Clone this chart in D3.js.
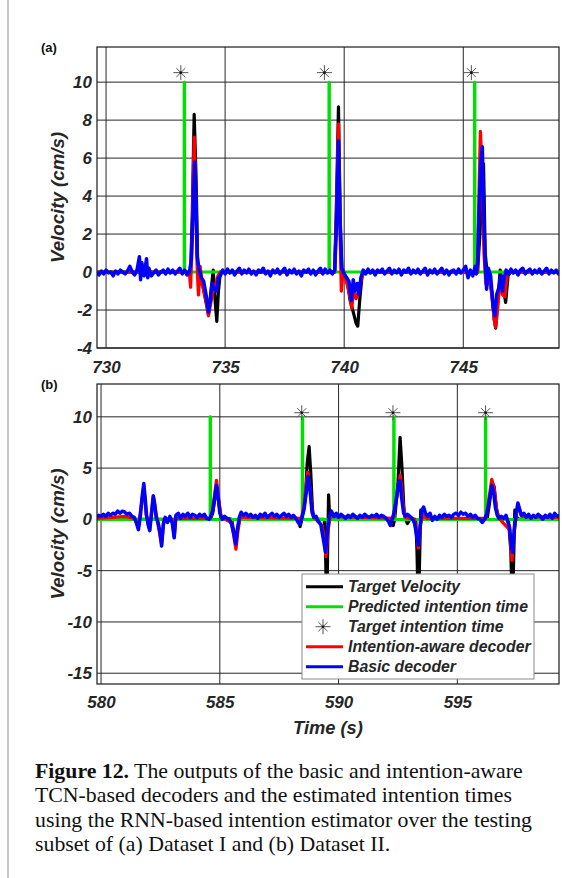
<!DOCTYPE html>
<html>
<head>
<meta charset="utf-8">
<script src="https://cdn.jsdelivr.net/npm/d3@7"></script>
<style>
  body { margin: 0; background: #fff; }
  svg { display: block; }
  .lab { font-family: "Liberation Sans", Arial, sans-serif; font-weight: bold; font-style: italic; fill: #262626; }
  .cap { font-family: "Liberation Serif", "Times New Roman", serif; font-size: 21.8px; fill: #111; }
</style>
</head>
<body>
<div id="chart"></div>
<script>
// ---------- panel (a): Dataset I ----------
const xTicksA = [730, 735, 740, 745];
const yTicksA = [-4, -2, 0, 2, 4, 6, 8, 10];

// target velocity (black)
const targetA = [
  [729.6, 0], [733.55, 0], [733.62, 3], [733.7, 8.3], [733.78, 5], [733.85, 0.2], [734.0, -0.3],
  [734.2, -1.6], [734.3, -2.2], [734.45, -0.5], [734.5, 0.1], [734.58, -1.5], [734.65, -2.6],
  [734.72, -1.0], [734.8, 0], [739.6, 0], [739.68, 4], [739.76, 8.7], [739.83, 3], [739.9, 0],
  [740.1, -0.3], [740.25, -1.5], [740.4, -2.2], [740.5, -2.7], [740.57, -2.85], [740.65, -1.5],
  [740.75, -0.2], [740.85, 0], [745.6, 0], [745.7, 2], [745.78, 4.5], [745.85, 5.7], [745.92, 1],
  [746.0, 0], [746.2, -1], [746.3, -2.5], [746.36, -2.95], [746.45, -1.5], [746.55, 0.1],
  [746.68, -0.8], [746.78, -1.6], [746.88, -0.2], [747.0, 0], [749.1, 0]
];

// predicted intention time (green)
const predA = [
  [729.6, 0], [733.28, 0], [733.28, 10], [733.3, 10], [733.3, 0], [739.36, 0], [739.36, 10],
  [739.38, 10], [739.38, 0], [745.47, 0], [745.47, 10], [745.49, 10], [745.49, 0], [749.1, 0]
];

// target intention time (stars)
const starA = [[733.14, 10.5], [739.17, 10.5], [745.34, 10.5]];

// intention-aware decoder (red)
const awareA = [
  [729.6, 0], [733.5, 0], [733.55, -0.8], [733.62, 2.0], [733.7, 7.1], [733.77, 4.0], [733.82, 0.5],
  [733.88, -1.2], [733.95, 0.3], [734.05, -0.7], [734.2, -1.5], [734.3, -2.3], [734.4, -1.6],
  [734.5, -1.0], [734.6, -0.7], [734.7, -0.2], [734.8, 0], [739.6, 0], [739.68, 3], [739.76, 7.8],
  [739.83, 2], [739.88, -1.0], [739.95, 0.1], [740.05, -0.3], [740.2, -1.0], [740.32, -1.9],
  [740.4, -0.8], [740.5, -1.4], [740.6, -1.1], [740.7, -0.5], [740.8, 0], [745.6, 0], [745.66, 4],
  [745.72, 7.4], [745.8, 5], [745.87, 1], [745.95, -0.6], [746.05, 0], [746.2, -1.2], [746.3, -2.5],
  [746.36, -2.9], [746.45, -1.8], [746.55, -0.4], [746.65, -1.2], [746.75, -1.3], [746.85, -0.1],
  [746.95, 0], [749.1, 0]
];

// basic decoder (blue)
const basicA = [
  [729.6, 0.0], [729.7, -0.15], [729.8, 0.05], [729.9, -0.1], [730.0, 0.1], [730.1, -0.05],
  [730.2, 0.0], [730.3, -0.2], [730.4, 0.05], [730.5, -0.1], [730.6, 0.1], [730.7, 0.0],
  [730.8, -0.1], [730.9, 0.05], [731.0, 0.3], [731.1, 0.0], [731.2, -0.15], [731.3, 0.1],
  [731.4, 0.8], [731.45, -0.4], [731.5, 0.5], [731.6, -0.2], [731.7, 0.7], [731.75, -0.3],
  [731.8, 0.2], [731.9, -0.2], [732.0, -0.05], [732.1, 0.1], [732.2, -0.15], [732.3, 0.0],
  [732.4, 0.1], [732.5, -0.1], [732.6, 0.15], [732.7, -0.05], [732.8, 0.1], [732.9, -0.1],
  [733.0, 0.05], [733.1, 0.2], [733.2, -0.1], [733.3, 0.1], [733.4, -0.15], [733.5, 0.0],
  [733.58, 0.6], [733.65, 3.0], [733.72, 5.8], [733.78, 3.5], [733.83, 0.8], [733.9, 0.2],
  [734.0, -0.3], [734.1, -0.5], [734.2, -1.2], [734.3, -2.1], [734.38, -1.5], [734.45, -0.6],
  [734.55, -0.9], [734.65, -1.0], [734.72, -0.3], [734.8, -0.2], [734.9, 0.1], [735.0, -0.1],
  [735.1, 0.15], [735.2, -0.05], [735.3, 0.1], [735.4, -0.15], [735.5, 0.05], [735.6, 0.2],
  [735.7, -0.1], [735.8, 0.1], [735.9, -0.05], [736.0, 0.15], [736.1, -0.1], [736.2, 0.05],
  [736.3, -0.15], [736.4, 0.1], [736.5, 0.0], [736.6, 0.2], [736.7, -0.1], [736.8, 0.05],
  [736.9, -0.2], [737.0, 0.1], [737.1, -0.05], [737.2, 0.15], [737.3, -0.1], [737.4, 0.05],
  [737.5, 0.2], [737.6, -0.15], [737.7, 0.1], [737.8, -0.05], [737.9, 0.15], [738.0, -0.1],
  [738.1, 0.05], [738.2, -0.2], [738.3, 0.1], [738.4, 0.0], [738.5, 0.15], [738.6, -0.1],
  [738.7, 0.1], [738.8, -0.15], [738.9, 0.05], [739.0, 0.2], [739.1, -0.1], [739.2, 0.15],
  [739.3, -0.05], [739.4, 0.1], [739.5, -0.1], [739.6, 0.1], [739.68, 2.5], [739.76, 6.9],
  [739.83, 2.5], [739.9, 0.2], [740.0, -0.1], [740.1, -0.3], [740.2, -0.5], [740.3, -1.5],
  [740.38, -0.4], [740.45, -1.0], [740.55, -0.6], [740.62, -1.2], [740.7, -0.3], [740.8, 0.1],
  [740.9, -0.1], [741.0, 0.15], [741.1, -0.05], [741.2, 0.1], [741.3, -0.15], [741.4, 0.1],
  [741.5, 0.0], [741.6, 0.15], [741.7, -0.1], [741.8, 0.05], [741.9, 0.2], [742.0, -0.1],
  [742.1, 0.1], [742.2, -0.05], [742.3, 0.15], [742.4, -0.15], [742.5, 0.1], [742.6, 0.0],
  [742.7, 0.2], [742.8, -0.1], [742.9, 0.1], [743.0, -0.05], [743.1, 0.15], [743.2, -0.1],
  [743.3, 0.05], [743.4, 0.2], [743.5, -0.15], [743.6, 0.1], [743.7, -0.05], [743.8, 0.15],
  [743.9, -0.1], [744.0, 0.05], [744.1, 0.2], [744.2, -0.1], [744.3, 0.1], [744.4, -0.15],
  [744.5, 0.05], [744.6, 0.1], [744.7, -0.1], [744.8, 0.15], [744.9, -0.05], [745.0, 0.1],
  [745.1, 0.3], [745.2, -0.3], [745.3, 0.1], [745.4, -0.2], [745.5, 0.3], [745.55, -0.1],
  [745.6, 0.5], [745.66, 3.0], [745.73, 5.6], [745.8, 6.6], [745.86, 3.2], [745.92, 0.5],
  [745.98, -0.9], [746.05, 0.2], [746.15, -0.2], [746.25, -1.8], [746.33, -2.3], [746.4, -1.2],
  [746.5, -0.8], [746.58, -0.2], [746.65, -1.0], [746.72, -0.3], [746.8, 0.1], [746.9, -0.1],
  [747.0, 0.15], [747.1, -0.05], [747.2, 0.1], [747.3, -0.15], [747.4, 0.1], [747.5, 0.2],
  [747.6, -0.1], [747.7, 0.05], [747.8, 0.15], [747.9, -0.1], [748.0, 0.1], [748.1, -0.05],
  [748.2, 0.15], [748.3, -0.1], [748.4, 0.05], [748.5, 0.2], [748.6, -0.1], [748.7, 0.1],
  [748.8, -0.05], [748.9, 0.1], [749.0, -0.1], [749.1, 0.05]
];

// ---------- panel (b): Dataset II ----------
const xTicksB = [580, 585, 590, 595];
const yTicksB = [-15, -10, -5, 0, 5, 10];

const targetB = [
  [579.8, 0], [584.6, 0], [584.7, 0.6], [584.8, 2.2], [584.87, 3.1], [584.95, 1.8], [585.05, 0.2],
  [585.5, 0], [585.6, -1.4], [585.67, -2.3], [585.75, -0.8], [585.85, 0], [588.3, 0], [588.38, -0.7],
  [588.45, 0], [588.6, 2.0], [588.68, 5.5], [588.76, 7.1], [588.83, 4.5], [588.9, 1.0], [588.97, 0],
  [589.4, 0], [589.45, -3], [589.5, -9], [589.54, -3], [589.58, 2.4], [589.63, 0], [592.25, 0],
  [592.3, -0.6], [592.36, 0], [592.5, 3.5], [592.59, 8.0], [592.67, 5], [592.75, 1], [592.82, 0],
  [592.9, -0.4], [593.0, 0], [593.25, 0], [593.3, -3], [593.36, -9], [593.42, -3], [593.46, 0.9],
  [593.52, 0], [596.25, 0], [596.35, 1.5], [596.45, 3.6], [596.55, 3.2], [596.65, 1.0], [596.75, 0],
  [597.15, 0], [597.25, -3], [597.32, -9], [597.38, -3], [597.42, 0.9], [597.5, 0.2], [597.6, 0],
  [599.4, 0]
];

const predB = [
  [579.8, 0], [584.59, 0], [584.59, 10], [584.61, 10], [584.61, 0], [588.47, 0], [588.47, 10],
  [588.49, 10], [588.49, 0], [592.32, 0], [592.32, 10], [592.34, 10], [592.34, 0], [596.18, 0],
  [596.18, 10], [596.2, 10], [596.2, 0], [599.4, 0]
];

const starB = [[588.45, 10.4], [592.29, 10.4], [596.19, 10.4]];

const awareB = [
  [579.8, 0.1], [580.5, 0.2], [581.0, 0.3], [581.4, 0.1], [581.57, -0.8], [581.8, 3.2], [581.9, 0.5],
  [582.05, -1.0], [582.2, 2.2], [582.35, 0.1], [582.55, -2.4], [582.65, 0], [583.0, 0], [583.08, -1.7],
  [583.15, 0.1], [584.6, 0.1], [584.7, 1.0], [584.86, 3.8], [584.95, 2.0], [585.05, 0.2], [585.5, -0.3],
  [585.6, -1.8], [585.68, -2.9], [585.76, -1.2], [585.85, 0.2], [586.0, 0.2], [588.45, 0.1],
  [588.55, 1.5], [588.7, 4.6], [588.8, 3], [588.9, 0.5], [589.0, 0.1], [589.3, -0.6], [589.4, -2.0],
  [589.47, -3.6], [589.55, -1.2], [589.65, 0.3], [592.3, 0.1], [592.4, 1.5], [592.6, 4.3],
  [592.7, 1.8], [592.8, 0.2], [593.2, 0], [593.3, -1.6], [593.36, -2.8], [593.45, -0.5], [593.55, 0.5],
  [593.7, 0.1], [596.2, 0.1], [596.3, 1.5], [596.45, 3.9], [596.55, 3.0], [596.65, 1.0],
  [596.75, 0.1], [597.2, -1.0], [597.3, -4.0], [597.38, -1.5], [597.5, 0.8], [597.58, 1.2],
  [597.7, 0.3], [599.4, 0.2]
];

const basicB = [
  [579.8, 0.2], [579.9, 0.4], [580.0, 0.3], [580.1, 0.5], [580.2, 0.3], [580.3, 0.6], [580.4, 0.4],
  [580.5, 0.6], [580.6, 0.5], [580.7, 0.8], [580.8, 0.6], [580.9, 0.8], [581.0, 0.7], [581.1, 0.5],
  [581.2, 0.6], [581.3, 0.3], [581.4, 0.2], [581.5, -0.4], [581.57, -1.0], [581.65, 0.2],
  [581.72, 2.0], [581.8, 3.5], [581.86, 2.0], [581.92, 0.3], [581.98, -0.5], [582.05, -1.1],
  [582.12, 0.5], [582.2, 2.3], [582.26, 1.5], [582.32, 0.2], [582.4, -0.3], [582.48, -1.2],
  [582.55, -2.6], [582.62, -0.5], [582.7, 0.2], [582.8, -0.3], [582.9, 0.3], [583.0, -0.4],
  [583.08, -1.8], [583.15, 0.4], [583.25, 0.6], [583.35, 0.1], [583.45, 0.5], [583.55, 0.3],
  [583.65, 0.6], [583.75, 0.2], [583.85, 0.5], [583.95, 0.4], [584.05, 0.2], [584.15, 0.5],
  [584.25, 0.3], [584.35, 0.5], [584.45, 0.1], [584.55, 0.0], [584.62, 0.3], [584.7, 0.8],
  [584.78, 2.0], [584.86, 3.3], [584.93, 2.2], [585.0, 0.6], [585.1, 0.0], [585.2, 0.3],
  [585.3, 0.1], [585.4, 0.0], [585.5, -0.5], [585.6, -1.5], [585.67, -2.4], [585.74, -1.0],
  [585.82, 0.2], [585.9, 0.7], [586.0, 0.4], [586.1, 0.6], [586.2, 0.3], [586.3, 0.5], [586.4, 0.2],
  [586.5, 0.4], [586.6, 0.1], [586.7, 0.5], [586.8, 0.3], [586.9, 0.6], [587.0, 0.2], [587.1, 0.4],
  [587.2, 0.6], [587.3, 0.3], [587.4, 0.5], [587.5, 0.2], [587.6, 0.4], [587.7, 0.6], [587.8, 0.3],
  [587.9, 0.5], [588.0, 0.2], [588.1, 0.4], [588.2, 0.1], [588.3, -0.3], [588.38, -0.5],
  [588.45, 0.1], [588.55, 1.0], [588.63, 2.5], [588.72, 4.2], [588.8, 2.8], [588.88, 0.8],
  [588.95, 0.2], [589.05, 0.3], [589.15, -0.2], [589.25, -0.5], [589.35, -1.8], [589.45, -3.2],
  [589.52, -1.5], [589.6, 0.2], [589.7, 0.8], [589.8, 0.3], [589.9, 0.6], [590.0, 0.2], [590.1, 0.5],
  [590.2, 0.3], [590.3, 0.1], [590.4, 0.4], [590.5, 0.2], [590.6, 0.5], [590.7, 0.3], [590.8, 0.1],
  [590.9, 0.4], [591.0, 0.2], [591.1, 0.5], [591.2, 0.3], [591.3, 0.2], [591.4, 0.4], [591.5, 0.3],
  [591.6, 0.5], [591.7, 0.2], [591.8, 0.4], [591.9, 0.3], [592.0, 0.1], [592.1, -0.2],
  [592.18, -0.6], [592.25, 0.0], [592.33, 0.6], [592.42, 1.8], [592.5, 3.1], [592.58, 3.8],
  [592.66, 2.0], [592.74, 0.6], [592.82, 0.3], [592.9, 0.5], [593.0, 0.3], [593.1, 0.1],
  [593.2, -0.4], [593.28, -1.5], [593.36, -2.5], [593.43, -0.8], [593.5, 0.8], [593.58, 1.2],
  [593.66, 0.6], [593.75, 0.3], [593.85, 0.6], [593.95, -0.1], [594.05, 0.3], [594.15, 0.0],
  [594.25, 0.4], [594.35, 0.2], [594.45, 0.5], [594.55, 0.3], [594.65, 0.4], [594.75, 0.2],
  [594.85, 0.5], [594.95, 0.6], [595.05, 0.4], [595.15, 0.7], [595.25, 0.5], [595.35, 0.6],
  [595.45, 0.3], [595.55, 0.5], [595.65, 0.2], [595.75, 0.4], [595.85, 0.1], [595.95, 0.0],
  [596.05, -0.3], [596.15, 0.0], [596.22, 0.4], [596.3, 1.2], [596.38, 2.3], [596.45, 3.3],
  [596.52, 2.8], [596.6, 1.2], [596.68, 0.4], [596.76, 0.1], [596.85, 0.3], [596.95, 0.1],
  [597.05, 0.4], [597.12, -0.2], [597.2, -0.8], [597.27, -2.5], [597.33, -3.2], [597.4, -1.0],
  [597.47, 0.5], [597.55, 1.6], [597.62, 1.0], [597.7, 0.4], [597.8, 0.6], [597.9, 0.2],
  [598.0, 0.5], [598.1, 0.1], [598.2, 0.4], [598.3, 0.2], [598.4, 0.5], [598.5, 0.3], [598.6, 0.0],
  [598.7, 0.4], [598.8, 0.2], [598.9, 0.5], [599.0, 0.1], [599.1, 0.6], [599.2, 0.3], [599.3, 0.4]
];

const legendNames = ['Target Velocity', 'Predicted intention time', 'Target intention time',
  'Intention-aware decoder', 'Basic decoder'];

// ---------- drawing ----------
const W = 562, H = 878;
const colors = { target: '#000000', pred: '#00e000', aware: '#ff0000', basic: '#0000ff' };

const svg = d3.select('#chart').append('svg').attr('width', W).attr('height', H);
svg.append('rect').attr('width', W).attr('height', H).attr('fill', '#fff');
// page margin rule on the left
svg.append('line').attr('x1', 8).attr('x2', 8).attr('y1', 0).attr('y2', H)
  .attr('stroke', '#c8c8c8').attr('stroke-width', 2);

// draws an 8-spoke MATLAB-like asterisk
function star(g, x, y) {
  const s = g.append('g').attr('transform', `translate(${x},${y})`);
  s.append('path').attr('d', d3.symbol(d3.symbolPlus, 75)())
    .attr('fill', 'none').attr('stroke', '#555').attr('stroke-width', 1);
  s.append('path').attr('d', d3.symbol(d3.symbolTimes, 55)())
    .attr('fill', 'none').attr('stroke', '#555').attr('stroke-width', 1);
  s.append('circle').attr('r', 1.3).attr('fill', '#111');
}

// MATLAB-ish tick text
function styleTicks(a) {
  a.select('.domain').remove();
  a.selectAll('text')
    .style('font-family', '"Liberation Sans", Arial, sans-serif')
    .style('font-weight', 'bold').style('font-style', 'italic')
    .style('font-size', '17px').attr('fill', '#262626');
}

function drawPanel(p) {
  const x = d3.scaleLinear().domain(p.xDomain).range([p.left, p.right]);
  const y = d3.scaleLinear().domain(p.yDomain).range([p.bottom, p.top]);
  const g = svg.append('g');

  g.append('clipPath').attr('id', p.id + 'clip')
    .append('rect').attr('x', p.left).attr('y', p.top)
    .attr('width', p.right - p.left).attr('height', p.bottom - p.top);

  // grid
  g.append('g').selectAll('line').data(p.yTicks).enter().append('line')
    .attr('x1', p.left).attr('x2', p.right).attr('y1', d => y(d)).attr('y2', d => y(d))
    .attr('stroke', '#262626').attr('stroke-width', 1);
  g.append('g').selectAll('line').data(p.xTicks).enter().append('line')
    .attr('y1', p.top).attr('y2', p.bottom).attr('x1', d => x(d)).attr('x2', d => x(d))
    .attr('stroke', '#262626').attr('stroke-width', 1);

  // axes (labels only)
  g.append('g').attr('transform', `translate(${p.left},0)`)
    .call(d3.axisLeft(y).tickValues(p.yTicks).tickFormat(d => String(d)).tickSize(0).tickPadding(5))
    .call(styleTicks);
  g.append('g').attr('transform', `translate(0,${p.bottom})`)
    .call(d3.axisBottom(x).tickValues(p.xTicks).tickFormat(d => String(d)).tickSize(0).tickPadding(p.xPad))
    .call(styleTicks);

  const line = d3.line().x(d => x(d[0])).y(d => y(d[1]));
  const plot = g.append('g').attr('clip-path', `url(#${p.id}clip)`);
  const series = [
    [p.target, colors.target, 3.2],
    [p.pred, colors.pred, 3],
    [p.aware, colors.aware, 3.3],
    [p.basic, colors.basic, 3.5]
  ];
  series.forEach((s, i) => {
    plot.append('path').datum(s[0]).attr('d', line)
      .attr('fill', 'none').attr('stroke', s[1]).attr('stroke-width', s[2])
      .attr('stroke-linejoin', 'round');
    if (i === 1) p.stars.forEach(d => star(plot, x(d[0]), y(d[1])));
  });

  // frame
  g.append('rect').attr('x', p.left).attr('y', p.top)
    .attr('width', p.right - p.left).attr('height', p.bottom - p.top)
    .attr('fill', 'none').attr('stroke', '#1a1a1a').attr('stroke-width', 1.2);

  g.append('text').attr('class', 'lab')
    .attr('transform', `translate(57,${(p.top + p.bottom) / 2}) rotate(-90)`)
    .attr('text-anchor', 'middle').attr('dy', '0.35em')
    .style('font-size', '18.7px').text('Velocity (cm/s)');

  g.append('text').attr('x', 41).attr('y', p.top + 5)
    .style('font-family', '"Liberation Sans", Arial, sans-serif').style('font-weight', 'bold')
    .style('font-size', '13px').attr('fill', '#111').text(p.tag);
  return { x, y };
}

drawPanel({
  id: 'a', tag: '(a)', left: 97, right: 559, top: 47, bottom: 348, xPad: 13,
  xDomain: [729.62, 749.02], yDomain: [-4, 11.85], xTicks: xTicksA, yTicks: yTicksA,
  target: targetA, pred: predA, aware: awareA, basic: basicA, stars: starA
});

drawPanel({
  id: 'b', tag: '(b)', left: 97, right: 559, top: 384, bottom: 684, xPad: 12,
  xDomain: [579.83, 599.28], yDomain: [-16.05, 13.2], xTicks: xTicksB, yTicks: yTicksB,
  target: targetB, pred: predB, aware: awareB, basic: basicB, stars: starB
});

svg.append('text').attr('class', 'lab').attr('x', 328).attr('y', 734)
  .attr('text-anchor', 'middle').style('font-size', '18.3px').text('Time (s)');

// legend
const lg = svg.append('g').attr('transform', 'translate(302,574)');
lg.append('rect').attr('width', 232).attr('height', 105)
  .attr('fill', '#fff').attr('stroke', '#8a8a8a').attr('stroke-width', 1);
const legendColors = [colors.target, colors.pred, null, colors.aware, colors.basic];
legendNames.forEach((name, i) => {
  const yy = 12.7 + i * 20;
  if (legendColors[i]) {
    lg.append('line').attr('x1', 4).attr('x2', 41).attr('y1', yy).attr('y2', yy)
      .attr('stroke', legendColors[i]).attr('stroke-width', 3);
  } else {
    star(lg, 21, yy);
  }
  lg.append('text').attr('class', 'lab').attr('x', 46).attr('y', yy).attr('dy', '0.35em')
    .style('font-size', '15.8px').attr('fill', '#000').text(name);
});

// caption
const capLines = [
  [['Figure 12.', true], [' The outputs of the basic and intention-aware', false]],
  [['TCN-based decoders and the estimated intention times', false]],
  [['using the RNN-based intention estimator over the testing', false]],
  [['subset of (a) Dataset I and (b) Dataset II.', false]]
];
capLines.forEach((ln, i) => {
  const t = svg.append('text').attr('class', 'cap').attr('x', 35).attr('y', 778 + i * 24.3);
  ln.forEach(part => t.append('tspan').style('font-weight', part[1] ? 'bold' : 'normal').text(part[0]));
});
</script>
</body>
</html>
